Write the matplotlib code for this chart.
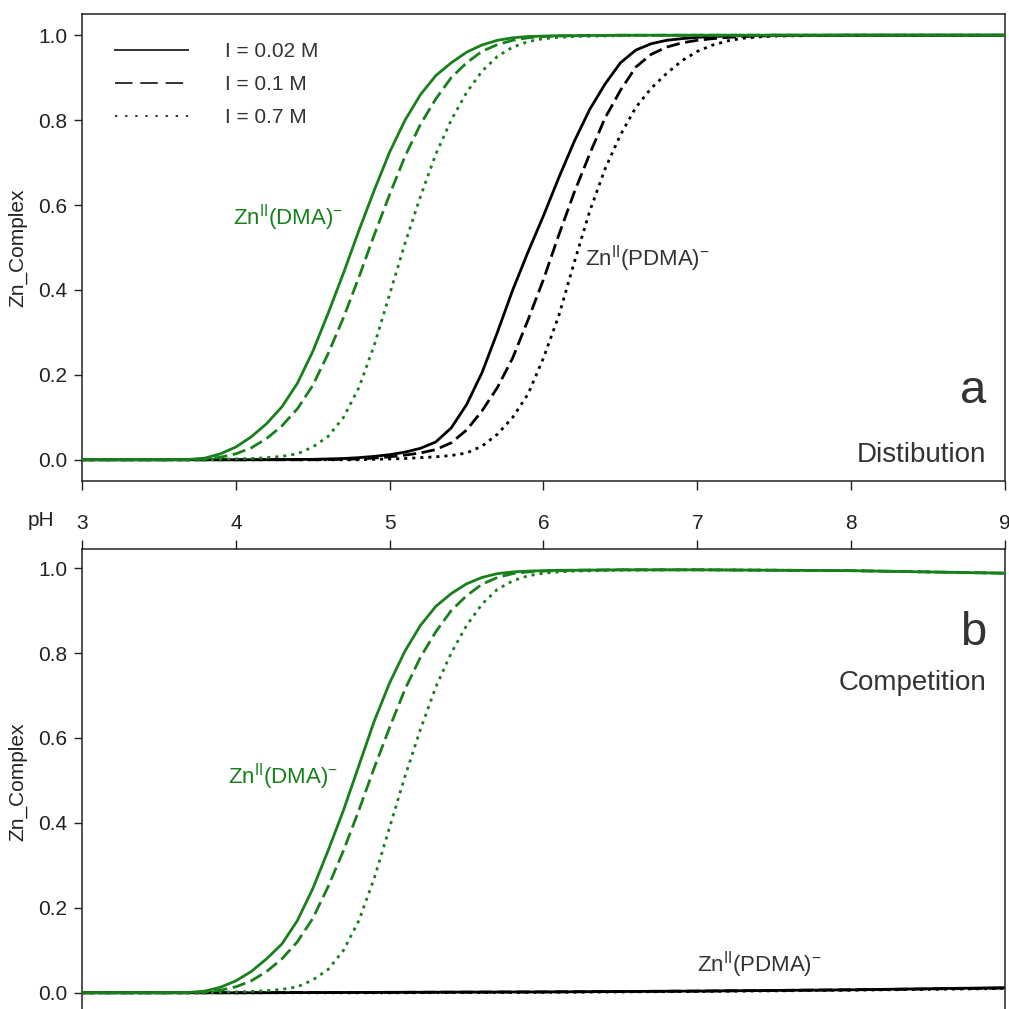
import matplotlib
matplotlib.use("Agg")
import matplotlib.pyplot as plt
from matplotlib.lines import Line2D

plt.rcParams['font.family'] = ['Liberation Sans', 'DejaVu Sans']
plt.rcParams['mathtext.fontset'] = 'custom'
plt.rcParams['mathtext.rm'] = 'Liberation Sans'
plt.rcParams['mathtext.it'] = 'Liberation Sans:italic'
plt.rcParams['mathtext.bf'] = 'Liberation Sans:bold'

# ---------------- data ----------------
ph_dma = [3.0, 3.5, 3.7, 3.8, 3.9, 4.0, 4.1, 4.2, 4.3, 4.4, 4.5, 4.6, 4.7, 4.8, 4.9,
          5.0, 5.1, 5.2, 5.3, 5.4, 5.5, 5.6, 5.7, 5.8, 5.9, 6.0, 6.1, 6.2, 6.5, 7.0, 8.0, 9.0]

# panel a (Distribution) - Zn(II)(DMA)-
dist_dma_002 = [0, 0, 0.001, 0.004, 0.014, 0.03, 0.054, 0.085, 0.125, 0.18, 0.255, 0.345, 0.44, 0.54, 0.635,
                0.725, 0.80, 0.86, 0.905, 0.935, 0.96, 0.977, 0.988, 0.994, 0.997, 0.998, 0.999, 0.999, 1.0, 1.0, 1.0, 1.0]
dist_dma_01 = [0, 0, 0.0, 0.002, 0.006, 0.014, 0.028, 0.05, 0.08, 0.12, 0.175, 0.25, 0.335, 0.43, 0.53,
               0.625, 0.715, 0.79, 0.85, 0.90, 0.935, 0.962, 0.978, 0.988, 0.994, 0.997, 0.998, 0.999, 1.0, 1.0, 1.0, 1.0]
dist_dma_07 = [0, 0, 0, 0, 0.001, 0.002, 0.003, 0.005, 0.008, 0.014, 0.03, 0.055, 0.10, 0.17, 0.27,
               0.39, 0.51, 0.62, 0.72, 0.80, 0.865, 0.915, 0.95, 0.972, 0.985, 0.992, 0.995, 0.997, 0.999, 1.0, 1.0, 1.0]

ph_pdma = [3.0, 4.0, 4.5, 4.7, 4.8, 4.9, 5.0, 5.1, 5.2, 5.3, 5.4, 5.5, 5.6, 5.7, 5.8, 5.9,
           6.0, 6.1, 6.2, 6.3, 6.4, 6.5, 6.6, 6.7, 6.8, 6.9, 7.0, 7.1, 7.2, 7.3, 7.4, 7.5, 8.0, 9.0]

# panel a (Distribution) - Zn(II)(PDMA)-
dist_pdma_002 = [0, 0, 0.001, 0.003, 0.005, 0.008, 0.012, 0.018, 0.027, 0.042, 0.075, 0.13, 0.205, 0.30, 0.40, 0.49,
                 0.575, 0.665, 0.75, 0.825, 0.885, 0.935, 0.965, 0.98, 0.988, 0.992, 0.995, 0.997, 0.998, 0.999, 0.999, 1.0, 1.0, 1.0]
dist_pdma_01 = [0, 0, 0.0, 0.001, 0.002, 0.004, 0.007, 0.011, 0.016, 0.024, 0.04, 0.07, 0.115, 0.17, 0.24, 0.33,
                0.425, 0.53, 0.63, 0.72, 0.805, 0.87, 0.925, 0.955, 0.972, 0.982, 0.988, 0.992, 0.995, 0.997, 0.998, 0.999, 1.0, 1.0]
dist_pdma_07 = [0, 0, 0, 0, 0, 0.001, 0.002, 0.003, 0.005, 0.007, 0.01, 0.016, 0.032, 0.06, 0.10, 0.155,
                0.24, 0.34, 0.465, 0.585, 0.685, 0.765, 0.83, 0.875, 0.91, 0.94, 0.962, 0.977, 0.987, 0.993, 0.996, 0.998, 1.0, 1.0]

# panel b (Competition) - Zn(II)(DMA)-
comp_dma_002 = [0, 0, 0.001, 0.004, 0.013, 0.028, 0.05, 0.08, 0.115, 0.17, 0.245, 0.335, 0.43, 0.535, 0.64,
                0.73, 0.805, 0.865, 0.91, 0.94, 0.963, 0.978, 0.987, 0.991, 0.993, 0.994, 0.995, 0.995, 0.996, 0.996, 0.994, 0.988]
comp_dma_01 = [0, 0, 0.0, 0.002, 0.006, 0.014, 0.028, 0.05, 0.08, 0.12, 0.175, 0.25, 0.335, 0.43, 0.53,
               0.625, 0.715, 0.79, 0.85, 0.90, 0.935, 0.962, 0.978, 0.987, 0.991, 0.993, 0.994, 0.995, 0.996, 0.996, 0.994, 0.988]
comp_dma_07 = [0, 0, 0, 0, 0.001, 0.002, 0.003, 0.005, 0.008, 0.014, 0.03, 0.055, 0.10, 0.17, 0.27,
               0.39, 0.51, 0.62, 0.72, 0.80, 0.865, 0.915, 0.95, 0.970, 0.982, 0.988, 0.991, 0.993, 0.995, 0.996, 0.994, 0.988]

# panel b (Competition) - Zn(II)(PDMA)-
ph_comp = [3.0, 4.0, 5.0, 6.0, 7.0, 8.0, 9.0]
comp_pdma_002 = [0, 0, 0.001, 0.002, 0.004, 0.007, 0.012]
comp_pdma_01 = [0, 0, 0.001, 0.002, 0.004, 0.007, 0.011]
comp_pdma_07 = [0, 0, 0.0, 0.001, 0.003, 0.006, 0.010]

legend_labels = ['I = 0.02 M', 'I = 0.1 M', 'I = 0.7 M']
x_ticks = [3, 4, 5, 6, 7, 8, 9]
y_ticks = [0.0, 0.2, 0.4, 0.6, 0.8, 1.0]

# ---------------- style ----------------
GREEN = '#17801a'
BLACK = '#000000'
TXT = '#333333'
SPINE = '#222222'
LW = 2.0
styles = ['-', (0, (4.8, 2.0)), (0, (1.1, 1.8))]

W = H = 1009
fig = plt.figure(figsize=(W / 100, H / 100), dpi=100)
ax1 = fig.add_axes([82 / W, 1 - 481 / H, 923 / W, 467 / H])
ax2 = fig.add_axes([82 / W, 1 - 1014 / H, 923 / W, 465 / H])

for ax in (ax1, ax2):
    ax.set_xlim(3, 9)
    ax.set_xticks(x_ticks)
    ax.set_yticks(y_ticks)
    ax.set_yticklabels([f'{v:.1f}' for v in y_ticks])
    for sp in ax.spines.values():
        sp.set_color(SPINE)
        sp.set_linewidth(1.1)
    ax.tick_params(axis='y', direction='out', length=6, width=1.0, pad=4.5,
                   labelsize=15, colors=SPINE, labelcolor='#222222', right=False)
    ax.set_ylabel('Zn_Complex', fontsize=15, color='#222222', labelpad=8)

ax1.set_ylim(-0.05, 1.05)
ax2.set_ylim(-0.05, 1.045)

ax1.tick_params(axis='x', direction='out', length=6.5, width=1.0, bottom=True,
                top=False, labelbottom=False, colors=SPINE)
ax2.tick_params(axis='x', direction='out', length=6.5, width=1.0, bottom=False,
                labelbottom=False, top=True, labeltop=True, pad=5, labelsize=15,
                colors=SPINE, labelcolor='#222222')
ax2.spines['bottom'].set_visible(False)

# panel a curves
for ys, ls in zip([dist_pdma_002, dist_pdma_01, dist_pdma_07], styles):
    ax1.plot(ph_pdma, ys, color=BLACK, lw=LW, linestyle=ls, zorder=2)
for ys, ls in zip([dist_dma_002, dist_dma_01, dist_dma_07], styles):
    ax1.plot(ph_dma, ys, color=GREEN, lw=LW, linestyle=ls, zorder=3)

# panel b curves
for ys, ls in zip([comp_dma_002, comp_dma_01, comp_dma_07], styles):
    ax2.plot(ph_dma, ys, color=GREEN, lw=LW, linestyle=ls, zorder=3)
for ys, ls in zip([comp_pdma_002, comp_pdma_01, comp_pdma_07], styles):
    ax2.plot(ph_comp, ys, color=BLACK, lw=LW, linestyle=ls, zorder=2)

# legend
handles = [Line2D([], [], color='#333333', lw=1.4, linestyle='-'),
           Line2D([], [], color='#333333', lw=1.4, linestyle=(0, (9, 4))),
           Line2D([], [], color='#333333', lw=1.4, linestyle=(0, (1.2, 4)))]
leg = ax1.legend(handles, legend_labels, loc='upper left',
                 bbox_to_anchor=((115 - 82) / 923, 1 - (42 - 14) / 467),
                 frameon=False, fontsize=15, handlelength=3.5, handletextpad=1.78,
                 labelspacing=0.68, borderaxespad=0, borderpad=0)
for t in leg.get_texts():
    t.set_color(TXT)

# annotations panel a
ax1.text(3.98, 0.57, r'Zn$^{\mathrm{II}}$(DMA)$^{-}$', color=GREEN, fontsize=16,
         ha='left', va='center')
ax1.text(6.27, 0.475, r'Zn$^{\mathrm{II}}$(PDMA)$^{-}$', color=TXT, fontsize=16,
         ha='left', va='center')
ax1.text(8.88, 0.134, 'a', color=TXT, fontsize=34, ha='right', va='baseline')
ax1.text(8.88, -0.005, 'Distibution', color=TXT, fontsize=20, ha='right', va='baseline')

# annotations panel b
ax2.text(3.95, 0.508, r'Zn$^{\mathrm{II}}$(DMA)$^{-}$', color=GREEN, fontsize=16,
         ha='left', va='center')
ax2.text(7.0, 0.066, r'Zn$^{\mathrm{II}}$(PDMA)$^{-}$', color=TXT, fontsize=16,
         ha='left', va='center')
ax2.text(8.88, 0.82, 'b', color=TXT, fontsize=34, ha='right', va='baseline')
ax2.text(8.88, 0.713, 'Competition', color=TXT, fontsize=20, ha='right', va='baseline')

# pH label between panels
fig.text(41 / W, 1 - 521 / H, 'pH', fontsize=15, color='#222222', ha='center', va='center')

fig.savefig('out.png', dpi=100)
